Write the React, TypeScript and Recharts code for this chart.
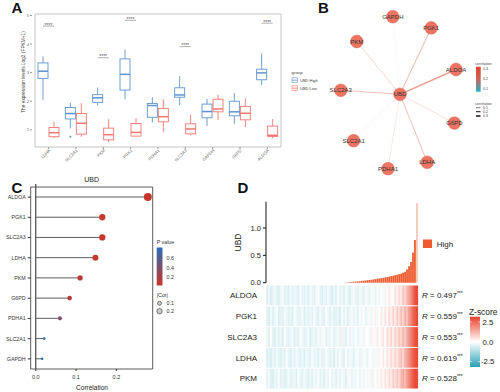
import React from "react";
import {
  ComposedChart,
  BarChart,
  ScatterChart,
  Bar,
  Scatter,
  Cell,
  XAxis,
  YAxis,
  ReferenceArea,
  ReferenceLine,
} from "recharts";

const FONT = "'Liberation Sans', Arial, Helvetica, sans-serif";
const BLUE = "#5E93CE";
const RED = "#F0776F";
const ORANGE = "#EE5A2E";

// ---- A: expression boxplots (UBD high vs low) ----
const boxGenes = ["LDHA", "SLC2A1", "PKM", "PGK1", "PDHA1", "SLC2A3", "GAPDH", "G6PD", "ALDOA"];
const highMin = [2.04, 1.05, 1.85, 2.07, 1.26, 1.86, 1.14, 1.21, 2.57];
const highQ1 = [2.8, 1.38, 1.96, 2.39, 1.44, 2.14, 1.42, 1.49, 2.75];
const highMed = [3.05, 1.57, 2.12, 2.94, 1.85, 2.22, 1.64, 1.63, 2.99];
const highQ3 = [3.34, 1.78, 2.23, 3.48, 1.92, 2.47, 1.9, 2.0, 3.12];
const highMax = [3.57, 1.95, 2.48, 3.81, 2.14, 2.88, 2.08, 2.28, 3.67];
const highOutliers = [[], [0.76], [], [], [], [], [], [], []];
const lowMin = [0.71, 0.76, 0.57, 0.76, 0.93, 0.8, 1.35, 1.1, 0.7];
const lowQ1 = [0.76, 0.85, 0.65, 0.78, 1.28, 0.86, 1.63, 1.35, 0.77];
const lowMed = [0.9, 1.23, 0.83, 0.91, 1.46, 1.03, 1.73, 1.58, 0.81];
const lowQ3 = [1.08, 1.57, 1.06, 1.22, 1.75, 1.21, 2.07, 1.82, 1.13];
const lowMax = [1.29, 1.93, 1.37, 1.41, 2.07, 1.53, 2.23, 2.1, 1.38];
const sigLevel = [4.63, null, 3.52, 4.83, null, 3.91, null, null, 4.73];

// ---- C: lollipop of correlation with UBD ----
const lolliGenes = ["ALDOA", "PGK1", "SLC2A3", "LDHA", "PKM", "G6PD", "PDHA1", "SLC2A1", "GAPDH"];
const lolliCor = [0.278, 0.165, 0.165, 0.148, 0.11, 0.084, 0.06, 0.021, 0.016];
const lolliP = [0.0, 0.01, 0.01, 0.02, 0.06, 0.12, 0.33, 0.72, 0.75];

// ---- B: network layout (UBD at centre) ----
const netGenes = ["UBD", "GAPDH", "PGK1", "PKM", "ALDOA", "SLC2A3", "G6PD", "SLC2A1", "LDHA", "PDHA1"];
const netX = [0, -0.09, 0.39, -0.54, 0.7, -0.74, 0.68, -0.58, 0.34, -0.15];
const netY = [0, 0.97, 0.83, 0.66, 0.31, 0.05, -0.36, -0.58, -0.85, -0.93];

// ---- D: UBD expression sorted + heatmap ----
const ubdExpr = [
  0, 0, 0, 0, 0, 0, 0, 0, 0, 0, 0, 0, 0, 0, 0, 0, 0, 0, 0, 0,
  0, 0, 0, 0, 0, 0, 0, 0, 0, 0, 0, 0, 0, 0, 0, 0, 0, 0, 0, 0,
  0.004, 0.007, 0.01, 0.013, 0.016, 0.02, 0.023, 0.027, 0.031, 0.035,
  0.039, 0.044, 0.049, 0.054, 0.059, 0.065, 0.071, 0.077, 0.083, 0.09,
  0.097, 0.104, 0.112, 0.12, 0.128, 0.136, 0.145, 0.155, 0.165, 0.18,
  0.2, 0.24, 0.3, 0.38, 0.55, 0.78, 1.45,
];
const ubdTicks = [0, 0.5, 1];
const UBD_MAX = 1.48;
const heatGenes = ["ALDOA", "PGK1", "SLC2A3", "LDHA", "PKM"];
const heatR = [0.497, 0.559, 0.553, 0.619, 0.528];
const zAldoa = [
  -0.5, -0.3, -0.6, -0.4, -0.2, -0.5, -0.6, -0.3, -0.1, -0.5, -0.4,
  -0.6, -0.2, -0.5, -0.3, -0.4, -0.6, -0.1, -0.4, -0.5, -0.3, -0.6,
  -0.2, -0.4, -0.5, -0.3, 0.0, -0.4, -0.6, -0.3, -0.5, -0.2, -0.4,
  -0.6, -0.3, -0.5, -0.1, -0.4, -0.3, -0.5, -0.2, -0.4, -0.6, -0.3,
  -0.1, -0.4, -0.5, -0.2, -0.3, -0.5, -0.1, -0.3, -0.4, 0.1, -0.2,
  -0.4, -0.1, -0.3, 0.0, -0.2, 0.2, -0.1, 0.3, 0.1, -0.1, 0.4,
  0.2, 0.5, 0.3, 0.8, 0.6, 1.0, 1.3, 1.6, 2.0, 2.4, 2.5,
];
const zPgk1 = [
  -0.4, -0.6, -0.2, -0.5, -0.3, -0.1, -0.6, -0.4, -0.5, -0.2, -0.3,
  -0.5, -0.4, -0.6, -0.1, -0.3, -0.5, -0.4, -0.2, -0.6, -0.3, -0.5,
  -0.3, -0.5, -0.1, -0.4, -0.6, -0.2, -0.4, -0.5, 0.0, -0.3, -0.5,
  -0.2, -0.5, -0.4, -0.3, -0.6, -0.1, -0.4, -0.2, -0.5, -0.3, 0.1,
  -0.4, -0.2, -0.5, -0.1, -0.3, 0.0, -0.4, -0.2, 0.1, -0.3, -0.1,
  0.2, -0.2, 0.0, 0.3, -0.1, 0.4, 0.1, 0.5, 0.2, 0.6, 0.3,
  0.7, 0.5, 0.9, 0.6, 1.1, 0.9, 1.4, 1.7, 2.1, 2.3, 2.5,
];
const zSlc2a3 = [
  -0.3, -0.5, 0.0, -0.4, -0.6, -0.2, -0.5, -0.3, -0.6, -0.1, -0.4,
  -0.5, -0.3, -0.2, -0.6, -0.4, -0.5, -0.1, -0.3, -0.5, -0.4, -0.2,
  -0.6, -0.4, -0.3, -0.5, -0.1, -0.4, -0.2, 0.1, -0.5, -0.3, -0.4,
  -0.1, -0.5, -0.3, -0.2, -0.4, 0.2, -0.3, -0.5, -0.1, -0.4, -0.2,
  -0.3, 0.0, -0.4, -0.2, 0.1, -0.3, -0.1, 0.0, -0.2, 0.2, -0.1,
  0.1, 0.3, -0.1, 0.2, 0.4, 0.0, 0.5, 0.3, 0.6, 0.2, 0.7,
  0.4, 0.8, 0.6, 1.0, 0.8, 1.2, 1.5, 1.8, 2.1, 2.4, 2.5,
];
const zLdha = [
  -0.5, -0.4, -0.6, -0.3, -0.5, -0.2, -0.4, -0.6, -0.3, -0.5, -0.1,
  -0.4, -0.6, -0.3, -0.5, -0.2, -0.4, -0.5, -0.3, -0.6, -0.2, -0.4,
  -0.5, -0.1, -0.4, -0.3, -0.6, -0.2, -0.5, -0.4, -0.1, -0.3, -0.5,
  -0.3, -0.6, -0.2, -0.4, -0.1, -0.3, -0.5, 0.0, -0.4, -0.2, -0.3,
  -0.5, -0.2, -0.1, -0.4, -0.3, 0.1, -0.2, -0.4, 0.0, -0.1, -0.3,
  0.1, -0.2, 0.2, 0.0, 0.3, -0.1, 0.4, 0.2, 0.5, 0.3, 0.6,
  0.4, 0.7, 0.9, 0.6, 1.1, 1.3, 1.6, 1.9, 2.2, 2.4, 2.5,
];
const zPkm = [
  -0.4, -0.2, -0.5, -0.6, -0.3, -0.4, -0.1, -0.5, -0.3, -0.6, -0.4,
  -0.2, -0.5, -0.4, -0.3, -0.6, -0.1, -0.4, -0.5, -0.2, -0.4, -0.6,
  -0.3, -0.5, -0.2, -0.4, -0.1, -0.5, -0.3, -0.6, -0.2, -0.4, 0.0,
  -0.4, -0.3, -0.5, -0.2, -0.4, -0.1, -0.3, -0.5, -0.2, 0.1, -0.4,
  -0.2, -0.3, 0.0, -0.4, -0.1, -0.3, 0.1, -0.2, -0.1, 0.2, -0.3,
  0.0, 0.2, -0.1, 0.3, 0.1, 0.4, 0.2, 0.5, 0.3, 0.7, 0.5,
  0.8, 0.6, 1.0, 1.2, 1.0, 1.4, 1.7, 2.0, 2.3, 2.5, 2.5,
];
const heatZ = [zAldoa, zPgk1, zSlc2a3, zLdha, zPkm];

// ---- helpers ----
const hex = (c: string) => [1, 3, 5].map((i) => parseInt(c.slice(i, i + 2), 16));
function mix(a: string, b: string, t: number) {
  const A = hex(a);
  const B = hex(b);
  const k = Math.max(0, Math.min(1, t));
  return "rgb(" + A.map((v, i) => Math.round(v + (B[i] - v) * k)).join(",") + ")";
}
const zColor = (z: number) => (z < 0 ? mix("#FFFFFF", "#2AA2B8", -z / 3.4) : mix("#FFFFFF", "#E8412B", z / 2.6));
const pColor = (p: number) => mix("#C8372C", "#2B6CB6", p / 0.75);
const corOf = (g: string) => lolliCor[lolliGenes.indexOf(g)];

const boxData = boxGenes.map((gene, i) => ({
  gene,
  high: [highMin[i], highMax[i]],
  low: [lowMin[i], lowMax[i]],
  hMin: highMin[i], hQ1: highQ1[i], hMed: highMed[i], hQ3: highQ3[i], hMax: highMax[i], hOut: highOutliers[i],
  lMin: lowMin[i], lQ1: lowQ1[i], lMed: lowMed[i], lQ3: lowQ3[i], lMax: lowMax[i], lOut: [],
  sig: sigLevel[i],
}));

const boxShape = (kind: "h" | "l", color: string) => (p: any) => {
  const d = p.payload;
  if (!d || p.height == null) return <g />;
  const vmin = d[kind + "Min"];
  const vmax = d[kind + "Max"];
  const top = Math.min(p.y, p.y + p.height);
  const k = Math.abs(p.height) / (vmax - vmin);
  const py = (v: number) => top + (vmax - v) * k;
  const cx = p.x + p.width / 2;
  const q1 = py(d[kind + "Q1"]);
  const q3 = py(d[kind + "Q3"]);
  const med = py(d[kind + "Med"]);
  return (
    <g>
      <line x1={cx} x2={cx} y1={py(vmax)} y2={q3} stroke={color} strokeWidth={0.9} />
      <line x1={cx} x2={cx} y1={q1} y2={py(vmin)} stroke={color} strokeWidth={0.9} />
      <rect x={p.x} y={q3} width={p.width} height={q1 - q3} fill="#fff" stroke={color} strokeWidth={0.9} />
      <line x1={p.x} x2={p.x + p.width} y1={med} y2={med} stroke={color} strokeWidth={1.5} />
      {(d[kind + "Out"] || []).map((o: number, j: number) => (
        <circle key={j} cx={cx} cy={py(o)} r={1} fill={color} />
      ))}
      {kind === "h" && d.sig != null && (
        <g>
          <line x1={cx} x2={cx + p.width + 1} y1={py(d.sig)} y2={py(d.sig)} stroke="#777" strokeWidth={0.6} />
          <text x={cx + (p.width + 1) / 2} y={py(d.sig) + 0.6} textAnchor="middle" fontSize={5} fill="#555">
            ****
          </text>
        </g>
      )}
    </g>
  );
};

const RotTick = (props: any) => {
  const { x, y, payload } = props;
  return (
    <text x={x + 1} y={y} transform={`rotate(-45 ${x + 1} ${y})`} textAnchor="end" dy="0.3em" fontSize={4.2} fill="#666">
      {payload.value}
    </text>
  );
};

const lolliData = lolliGenes.map((gene, i) => ({ gene, cor: lolliCor[i], p: lolliP[i] }));
const LolliShape = (p: any) => {
  const d = p.payload;
  if (!d) return <g />;
  const yc = p.y + p.height / 2;
  const x1 = p.x + p.width;
  const r = 0.4 + 6.8 * Math.sqrt(d.cor);
  return (
    <g>
      <line x1={p.x} x2={x1} y1={yc} y2={yc} stroke="#333" strokeWidth={0.8} />
      <circle cx={x1} cy={yc} r={r} fill={pColor(d.p)} />
    </g>
  );
};

const nodes = netGenes.map((name, i) => ({ name, x: netX[i], y: netY[i] }));
const NodeShape = (p: any) => (
  <g>
    <circle cx={p.cx} cy={p.cy} r={6.4} fill="#EC7462" stroke="#DE6050" strokeWidth={0.4} />
    <text x={p.cx} y={p.cy} dy="0.36em" textAnchor="middle" fontSize={6} fill="#333">
      {p.payload.name}
    </text>
  </g>
);

const topData = ubdExpr.map((v, i) => ({ i, v }));
const heatData = ubdExpr.map((_, i) => {
  const row: any = { i };
  heatGenes.forEach((g) => (row[g] = 1));
  return row;
});
const HeatCell = (p: any) => (
  <rect x={p.x} y={p.y + 0.5} width={p.width + 0.3} height={Math.max(0, p.height - 1)} fill={p.fill} />
);
const rowTicks = [0.5, 1.5, 2.5, 3.5, 4.5];
const rowName = (v: number) => heatGenes[4 - Math.floor(v)];

// plot boxes of panel D (px), used to line up the side labels
const TOP_Y0 = 201.7;
const TOP_Y1 = 282.7;
const HEAT_TOP = 285;
const HEAT_ROW = 20.8;

export default function App() {
  return (
    <div style={{ position: "absolute", left: 0, top: 0, width: 500, height: 392, background: "#fff", fontFamily: FONT }}>
      {/* A */}
      <div style={{ position: "absolute", left: 0, top: 0 }}>
        <ComposedChart width={290} height={175} data={boxData} margin={{ top: 14, right: 6, bottom: 0, left: 22 }} barSize={10} barGap={1}>
          <XAxis dataKey="gene" type="category" padding={{ left: 3, right: 3 }} height={28} axisLine={false} tickSize={2} tickLine={{ stroke: "#999" }} tickMargin={1} tick={<RotTick />} interval={0} />
          <YAxis type="number" domain={[0.4, 5.05]} ticks={[1, 2, 3, 4, 5]} interval={0} allowDataOverflow width={10} axisLine={false} tickSize={2} tickMargin={1} tickLine={{ stroke: "#999" }} tick={{ fontSize: 4.2, fill: "#666" }} />
          <ReferenceArea y1={0.4} y2={5.05} fill="none" stroke="#C4C4C4" strokeWidth={1} ifOverflow="visible" />
          <Bar dataKey="high" shape={boxShape("h", BLUE)} isAnimationActive={false} />
          <Bar dataKey="low" shape={boxShape("l", RED)} isAnimationActive={false} />
        </ComposedChart>
      </div>

      {/* B */}
      <div style={{ position: "absolute", left: 320, top: 0 }}>
        <ScatterChart width={180} height={195} margin={{ top: 0, right: 0, bottom: 0, left: 0 }}>
          <XAxis type="number" dataKey="x" domain={[-1, 1.25]} hide allowDataOverflow />
          <YAxis type="number" dataKey="y" domain={[-1.259, 1.179]} hide allowDataOverflow />
          {nodes.slice(1).map((n) => {
            const c = corOf(n.name);
            return (
              <Scatter
                key={n.name}
                data={[nodes[0], n]}
                line={{ stroke: "#E8806C", strokeWidth: 0.5 + c * 3.5, strokeOpacity: 0.12 + c * 2.3 }}
                shape={() => <g />}
                isAnimationActive={false}
              />
            );
          })}
          <Scatter data={nodes} shape={NodeShape} isAnimationActive={false} />
        </ScatterChart>
      </div>

      {/* C */}
      <div style={{ position: "absolute", left: 0, top: 176 }}>
        <ComposedChart width={160} height={216} data={lolliData} layout="vertical" margin={{ top: 8, right: 7.3, bottom: 0, left: 0 }}>
          <XAxis type="number" domain={[-0.0125, 0.29]} ticks={[0, 0.1, 0.2]} interval={0} tickFormatter={(v: number) => v.toFixed(1)} allowDataOverflow height={23} axisLine={false} tickSize={2} tickMargin={4} tickLine={{ stroke: "#333" }} tick={{ fontSize: 5.5, fill: "#333" }} />
          <YAxis type="category" dataKey="gene" width={30.7} padding={{ top: 3, bottom: 0 }} axisLine={false} tickSize={3} tickMargin={2} tickLine={{ stroke: "#333" }} tick={{ fontSize: 5.3, fill: "#333" }} interval={0} />
          <ReferenceArea x1={-0.0125} x2={0.29} fill="none" stroke="#333" strokeWidth={0.8} ifOverflow="visible" />
          <ReferenceLine x={0} stroke="#555" strokeWidth={1.3} />
          <Bar dataKey="cor" barSize={10} shape={LolliShape} isAnimationActive={false} />
        </ComposedChart>
      </div>

      {/* D top */}
      <div style={{ position: "absolute", left: 200, top: 195 }}>
        <BarChart width={300} height={96} data={topData} margin={{ top: 6.7, right: 82, bottom: 8.3, left: 0 }} barCategoryGap={0}>
          <XAxis dataKey="i" hide />
          <YAxis type="number" domain={[0, UBD_MAX]} ticks={ubdTicks} interval={0} width={66} axisLine={{ stroke: "#111", strokeWidth: 1 }} tickLine={{ stroke: "#111" }} tickSize={3} tick={() => <g />} />
          <Bar dataKey="v" fill={ORANGE} barSize={2.6} isAnimationActive={false}>
            {ubdExpr.map((_, i) => (
              <Cell key={i} fill={ORANGE} fillOpacity={i === ubdExpr.length - 1 ? 0.35 : 1} />
            ))}
          </Bar>
        </BarChart>
      </div>

      {/* D heatmap */}
      <div style={{ position: "absolute", left: 200, top: 284 }}>
        <BarChart width={300} height={108} data={heatData} margin={{ top: 1, right: 82, bottom: 3, left: 0 }} barCategoryGap={0}>
          <XAxis dataKey="i" hide />
          <YAxis type="number" domain={[0, 5]} ticks={rowTicks} interval={0} tickFormatter={rowName} width={66} axisLine={false} tickLine={false} tickMargin={3} tick={{ fontSize: 8, fill: "#222" }} />
          {[...heatGenes].reverse().map((g) => {
            const z = heatZ[heatGenes.indexOf(g)];
            return (
              <Bar key={g} dataKey={g} stackId="h" barSize={2} shape={HeatCell} isAnimationActive={false}>
                {z.map((v, i) => (
                  <Cell key={i} fill={zColor(v)} />
                ))}
              </Bar>
            );
          })}
        </BarChart>
      </div>

      {/* labels, titles and legends */}
      <svg width={500} height={392} style={{ position: "absolute", left: 0, top: 0, pointerEvents: "none" }} fontFamily={FONT}>
        <defs>
          <linearGradient id="gB" x1="0" y1="0" x2="0" y2="1">
            <stop offset="0" stopColor="#E5412B" />
            <stop offset="0.5" stopColor="#C8665C" />
            <stop offset="1" stopColor="#2AAFC7" />
          </linearGradient>
          <linearGradient id="gP" x1="0" y1="0" x2="0" y2="1">
            <stop offset="0" stopColor="#2B6CB6" />
            <stop offset="1" stopColor="#C8372C" />
          </linearGradient>
          <linearGradient id="gZ" x1="0" y1="0" x2="0" y2="1">
            <stop offset="0" stopColor="#E8412B" />
            <stop offset="0.5" stopColor="#FFFFFF" />
            <stop offset="1" stopColor="#2AA2B8" />
          </linearGradient>
        </defs>
        <g fontSize={15} fontWeight="bold" fill="#111">
          <text x={11.5} y={12.8}>A</text>
          <text x={318} y={12.8}>B</text>
          <text x={11.5} y={192.5}>C</text>
          <text x={237.5} y={192.5}>D</text>
        </g>

        {/* A */}
        <text x={24.5} y={72} transform="rotate(-90 24.5 72)" textAnchor="middle" fontSize={4.8} fill="#444">
          The expression levels Log2 (FPKM+1)
        </text>
        <text x={291.5} y={73.5} fontSize={4.4} fill="#444">group</text>
        <rect x={292} y={77.8} width={5.5} height={4.8} fill="#fff" stroke={BLUE} strokeWidth={0.6} />
        <line x1={292} x2={297.5} y1={80.2} y2={80.2} stroke={BLUE} strokeWidth={0.8} />
        <text x={300} y={81.8} fontSize={4} fill="#444">UBD High</text>
        <rect x={292} y={85.8} width={5.5} height={4.8} fill="#fff" stroke={RED} strokeWidth={0.6} />
        <line x1={292} x2={297.5} y1={88.2} y2={88.2} stroke={RED} strokeWidth={0.8} />
        <text x={300} y={89.8} fontSize={4} fill="#444">UBD Low</text>

        {/* B */}
        <g fontSize={3.6} fill="#444">
          <text x={475} y={65.2}>correlation</text>
          <rect x={476} y={66.7} width={4.7} height={25} fill="url(#gB)" />
          <text x={483} y={70}>0.3</text>
          <text x={483} y={80.3}>0.2</text>
          <text x={483} y={89.6}>0.1</text>
          <text x={475} y={104.5}>correlation</text>
          <line x1={476} x2={480.5} y1={107.7} y2={107.7} stroke="#222" strokeWidth={0.6} />
          <line x1={476} x2={480.5} y1={111.7} y2={111.7} stroke="#222" strokeWidth={1.1} />
          <line x1={476} x2={480.5} y1={116} y2={116} stroke="#222" strokeWidth={1.6} />
          <text x={483} y={109}>0.1</text>
          <text x={483} y={113}>0.2</text>
          <text x={483} y={117.3}>0.3</text>
        </g>

        {/* C */}
        <text x={91.7} y={182} textAnchor="middle" fontSize={7} fill="#222">UBD</text>
        <text x={92} y={390.2} textAnchor="middle" fontSize={6.5} fill="#222">Correlation</text>
        <g fontSize={5.3} fill="#333">
          <text x={156.7} y={243.6}>P value</text>
          <rect x={156.7} y={247.5} width={5.8} height={38} fill="url(#gP)" />
          <text x={166.5} y={259.5}>0.6</text>
          <text x={166.5} y={269.5}>0.4</text>
          <text x={166.5} y={278.5}>0.2</text>
          <text x={156.7} y={296.8}>|Cor|</text>
          <circle cx={159.5} cy={303.3} r={2} fill="#ccc" stroke="#333" strokeWidth={0.6} />
          <circle cx={159.5} cy={311.2} r={2.7} fill="#ccc" stroke="#333" strokeWidth={0.6} />
          <text x={166.5} y={305.2}>0.1</text>
          <text x={166.5} y={313.1}>0.2</text>
        </g>

        {/* D */}
        <text x={240.5} y={242.5} transform="rotate(-90 240.5 242.5)" textAnchor="middle" fontSize={8.5} fill="#222">UBD</text>
        {ubdTicks.map((t) => (
          <text key={t} x={261} y={TOP_Y1 - (t / UBD_MAX) * (TOP_Y1 - TOP_Y0)} dy="0.35em" textAnchor="end" fontSize={7.5} fill="#222">
            {t.toFixed(1)}
          </text>
        ))}
        <rect x={423} y={239.5} width={9} height={8.5} fill={ORANGE} />
        <text x={436.7} y={246.8} fontSize={8} fill="#222">High</text>
        {heatR.map((r, i) => (
          <text key={i} x={422} y={HEAT_TOP + (i + 0.5) * HEAT_ROW} dy="0.35em" fontSize={8} fill="#222">
            <tspan fontStyle="italic">R</tspan>
            {` = ${r.toFixed(3)}`}
            <tspan dy={-3} fontSize={5}>***</tspan>
          </text>
        ))}
        <text x={469} y={315} fontSize={8.4} fill="#222">Z-score</text>
        <rect x={470} y={316.7} width={10} height={50.3} fill="url(#gZ)" />
        <g stroke="#fff" strokeWidth={0.6}>
          <line x1={470} x2={472} y1={322} y2={322} />
          <line x1={478} x2={480} y1={322} y2={322} />
          <line x1={470} x2={472} y1={341.8} y2={341.8} />
          <line x1={478} x2={480} y1={341.8} y2={341.8} />
          <line x1={470} x2={472} y1={361.6} y2={361.6} />
          <line x1={478} x2={480} y1={361.6} y2={361.6} />
        </g>
        <g fontSize={7.8} fill="#222">
          <text x={482.5} y={324.8}>2.5</text>
          <text x={482.5} y={344.6}>0.0</text>
          <text x={481} y={364.4}>-2.5</text>
        </g>
      </svg>
    </div>
  );
}
